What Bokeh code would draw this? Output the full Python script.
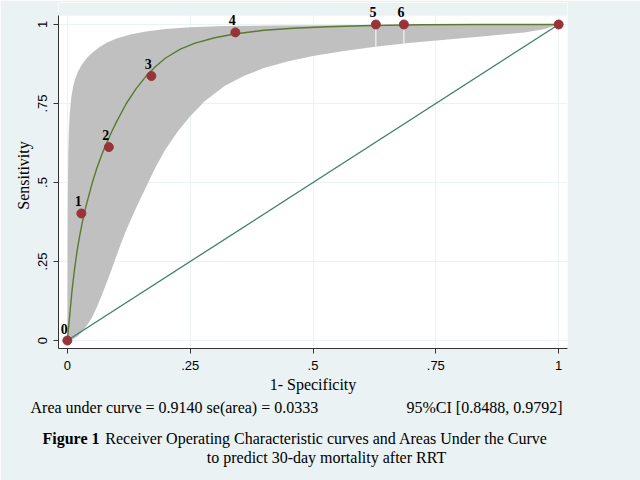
from bokeh.plotting import figure
from bokeh.models import Label, LabelSet, FixedTicker, Range1d, ColumnDataSource, BoxAnnotation
from bokeh.embed import file_html
from bokeh.resources import INLINE
from bokeh.core.properties import value
import numpy as np

# --- data ---
point_fpr = [0.0, 0.0285, 0.0845, 0.171, 0.342, 0.628, 0.685, 1.0]
point_sens = [0.0, 0.402, 0.612, 0.837, 0.975, 1.0, 1.0, 1.0]
point_labels = ["0", "1", "2", "3", "4", "5", "6", ""]

fit_fpr = [0.0, 0.003, 0.006, 0.01, 0.015, 0.02, 0.025, 0.03, 0.035, 0.04,
           0.05, 0.06, 0.07, 0.08, 0.09, 0.10, 0.12, 0.14, 0.16, 0.18,
           0.20, 0.23, 0.26, 0.30, 0.34, 0.40, 0.46, 0.53, 0.62, 0.72,
           0.85, 1.0]
fit_sens = [0.0, 0.05, 0.10, 0.165, 0.23, 0.285, 0.33, 0.37, 0.405, 0.437,
            0.495, 0.545, 0.588, 0.625, 0.66, 0.692, 0.75, 0.797, 0.836, 0.868,
            0.894, 0.922, 0.941, 0.958, 0.97, 0.982, 0.988, 0.993, 0.997, 0.999,
            1.0, 1.0]

band_upper_fpr = [0.0, 0.0005, 0.001, 0.002, 0.003, 0.005, 0.008, 0.012, 0.016,
                  0.022, 0.03, 0.04, 0.05, 0.065, 0.08, 0.10, 0.13, 0.16, 0.20,
                  0.25, 0.32, 0.42, 0.55, 0.7, 0.85, 1.0]
band_upper_sens = [0.0, 0.25, 0.45, 0.6, 0.66, 0.72, 0.77, 0.805, 0.828,
                   0.852, 0.874, 0.895, 0.91, 0.928, 0.942, 0.956, 0.969, 0.978,
                   0.986, 0.991, 0.995, 0.997, 0.998, 0.999, 0.9995, 1.0]
band_lower_fpr = [0.0, 0.01, 0.02, 0.03, 0.04, 0.05, 0.06, 0.07, 0.08, 0.09,
                  0.10, 0.11, 0.12, 0.14, 0.16, 0.18, 0.20, 0.225, 0.25, 0.28,
                  0.32, 0.36, 0.40, 0.45, 0.50, 0.56, 0.63, 0.70, 0.78, 0.86,
                  0.93, 0.97, 1.0]
band_lower_sens = [0.0, 0.003, 0.012, 0.028, 0.048, 0.072, 0.105, 0.143, 0.183,
                   0.225, 0.268, 0.31, 0.35, 0.42, 0.485, 0.55, 0.605, 0.662,
                   0.71, 0.758, 0.805, 0.838, 0.862, 0.884, 0.9, 0.915, 0.93,
                   0.942, 0.953, 0.964, 0.975, 0.985, 1.0]

tick_values = [0, 0.25, 0.5, 0.75, 1]
tick_labels = ["0", ".25", ".5", ".75", "1"]

auc_text = "Area under curve = 0.9140 se(area) = 0.0333"
ci_text = "95%CI [0.8488, 0.9792]"
fig_label = "Figure 1"
caption_lines = ["Receiver Operating Characteristic curves and Areas Under the Curve",
                 "to predict 30-day mortality after RRT"]

SERIF = "Liberation Serif"
SANS = "Liberation Sans"
BG = "#eaf2f3"

# plot-region limits (white area) and the taller range that leaves room for
# the point labels that stick out above the white area
Y_LO, Y_TOP_WHITE, Y_HI = -0.0253, 1.028, 1.0696

p = figure(width=640, height=480, output_backend="svg", toolbar_location=None,
           x_range=Range1d(-0.018, 1.018), y_range=Range1d(Y_LO, Y_HI),
           min_border_left=58, min_border_right=73, min_border_top=2,
           min_border_bottom=132)
p.background_fill_color = "white"
p.border_fill_color = BG
p.outline_line_color = None

p.xgrid.ticker = FixedTicker(ticks=tick_values)
p.ygrid.ticker = FixedTicker(ticks=tick_values)
p.grid.grid_line_color = BG
p.grid.grid_line_width = 1

# strip above the white plot region, same colour as the outer background
p.add_layout(BoxAnnotation(bottom=Y_TOP_WHITE, fill_color=BG, fill_alpha=1.0,
                           line_color=None, level="underlay"))

# confidence band
band_x = list(band_upper_fpr) + list(band_lower_fpr[::-1])
band_y = list(band_upper_sens) + list(band_lower_sens[::-1])
p.patch(band_x, band_y, fill_color="#c0c0c0", line_color=None)

# white spikes at the points lying on the top edge
for fx, sy in zip(point_fpr, point_sens):
    if 0.5 < fx < 0.99:
        lo = float(np.interp(fx, band_lower_fpr, band_lower_sens))
        p.segment(x0=[fx], y0=[lo], x1=[fx], y1=[sy], line_color="white", line_width=1)

# reference diagonal
p.line([0, 1], [0, 1], line_color="#3f7f6f", line_width=1.3)
# fitted curve
p.line(fit_fpr, fit_sens, line_color="#5b7a2e", line_width=1.4)
# observed points
src = ColumnDataSource(dict(x=point_fpr, y=point_sens, lab=point_labels))
p.scatter("x", "y", source=src, size=9, fill_color="#983339", line_color="#983339")
p.add_layout(LabelSet(x="x", y="y", text="lab", source=src, x_offset=-3, y_offset=7,
                      text_align="center", text_baseline="bottom",
                      text_font=value(SERIF), text_font_style="bold",
                      text_font_size="14px", text_color="black"))

# axes
for ax in (p.xaxis[0], p.yaxis[0]):
    ax.ticker = FixedTicker(ticks=tick_values)
    ax.major_label_overrides = {v: s for v, s in zip(tick_values, tick_labels)}
    ax.minor_tick_line_color = None
    ax.major_tick_in = 0
    ax.major_tick_out = 5
    ax.axis_line_color = "#333333"
    ax.major_tick_line_color = "#333333"
    ax.major_label_text_font = SANS
    ax.major_label_text_font_size = "13px"
    ax.major_label_text_color = "black"
    ax.axis_label_text_font = SERIF
    ax.axis_label_text_font_size = "16px"
    ax.axis_label_text_font_style = "normal"
    ax.axis_label_text_color = "black"

p.yaxis.bounds = (Y_LO, Y_TOP_WHITE)
p.xaxis.axis_label = "1- Specificity"
p.yaxis.axis_label = "Sensitivity"
p.xaxis.major_label_standoff = 7
p.xaxis.axis_label_standoff = 3
p.yaxis.major_label_orientation = "vertical"
p.yaxis.major_label_standoff = 6
p.yaxis.axis_label_standoff = 4


def foot_text(txt, x, y, align="left", bold=False, baseline="middle", side="below"):
    p.add_layout(Label(x=x, y=y, x_units="canvas", y_units="canvas", text=txt,
                       text_font=SERIF, text_font_size="16px",
                       text_font_style="bold" if bold else "normal",
                       text_align=align, text_baseline=baseline,
                       text_line_height=1.15, text_color="black"), side)


foot_text(auc_text, 30, 407)
foot_text(ci_text, 562, 407, align="right")
foot_text(fig_label, 42, 438, bold=True, side="right")
foot_text("\n".join(caption_lines), 326, 429, align="center", baseline="top")

open("out.html", "w").write(file_html(p, INLINE))
